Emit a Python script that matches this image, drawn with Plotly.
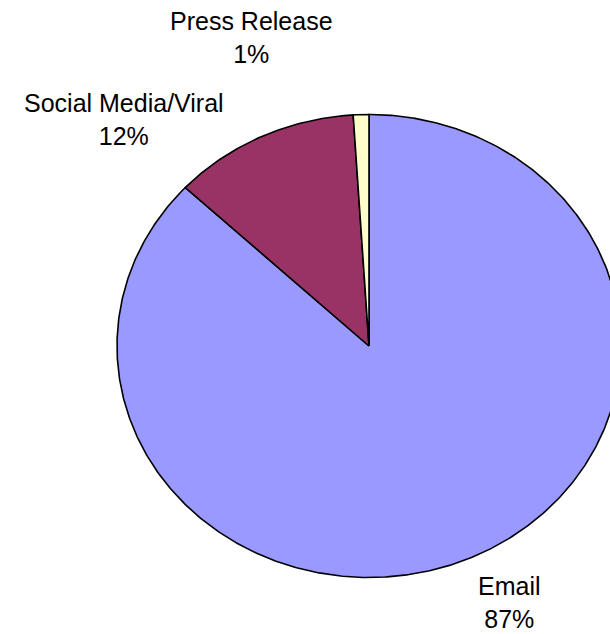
import numpy as np
import plotly.graph_objects as go

# Lead source shares (percent), in drawing order clockwise from 12 o'clock
categories = ["Email", "Social Media/Viral", "Press Release"]
shares = [87, 12, 1]
colors = ["#9999FF", "#993366", "#FFFFCC"]

W, H = 610, 634
CX, CY = 369, 346          # pie centre (px)
RX, RY = 252, 231.5        # horizontal / vertical radius (px)

# label anchor points (px) for each category
label_pos = {
    "Email": (509.5, 602),
    "Social Media/Viral": (124, 119),
    "Press Release": (251.5, 37),
}

fig = go.Figure()

total = float(sum(shares))
start = 0.0
for name, val, col in zip(categories, shares, colors):
    span = 360.0 * val / total
    t = np.radians(np.linspace(start, start + span, max(int(span * 2), 4)))
    xs = np.concatenate([[CX], CX + RX * np.sin(t), [CX]])
    ys = np.concatenate([[CY], CY - RY * np.cos(t), [CY]])
    fig.add_trace(go.Scatter(
        x=xs, y=ys, mode="lines", fill="toself", fillcolor=col,
        line=dict(color="black", width=1.6), name=name,
        hoverinfo="name", showlegend=False,
    ))
    start += span

for name, val in zip(categories, shares):
    lx, ly = label_pos[name]
    fig.add_annotation(
        x=lx, y=ly, xref="x", yref="y", showarrow=False,
        text=f"{name}<br>{val}%", align="center",
        xanchor="center", yanchor="middle",
        font=dict(family="Liberation Sans, Arial, sans-serif", size=25, color="black"),
    )

fig.update_xaxes(range=[0, W], visible=False, fixedrange=True)
fig.update_yaxes(range=[H, 0], visible=False, fixedrange=True)
fig.update_layout(
    width=W, height=H, margin=dict(l=0, r=0, t=0, b=0),
    paper_bgcolor="white", plot_bgcolor="white",
)

fig.write_html("out.html")
